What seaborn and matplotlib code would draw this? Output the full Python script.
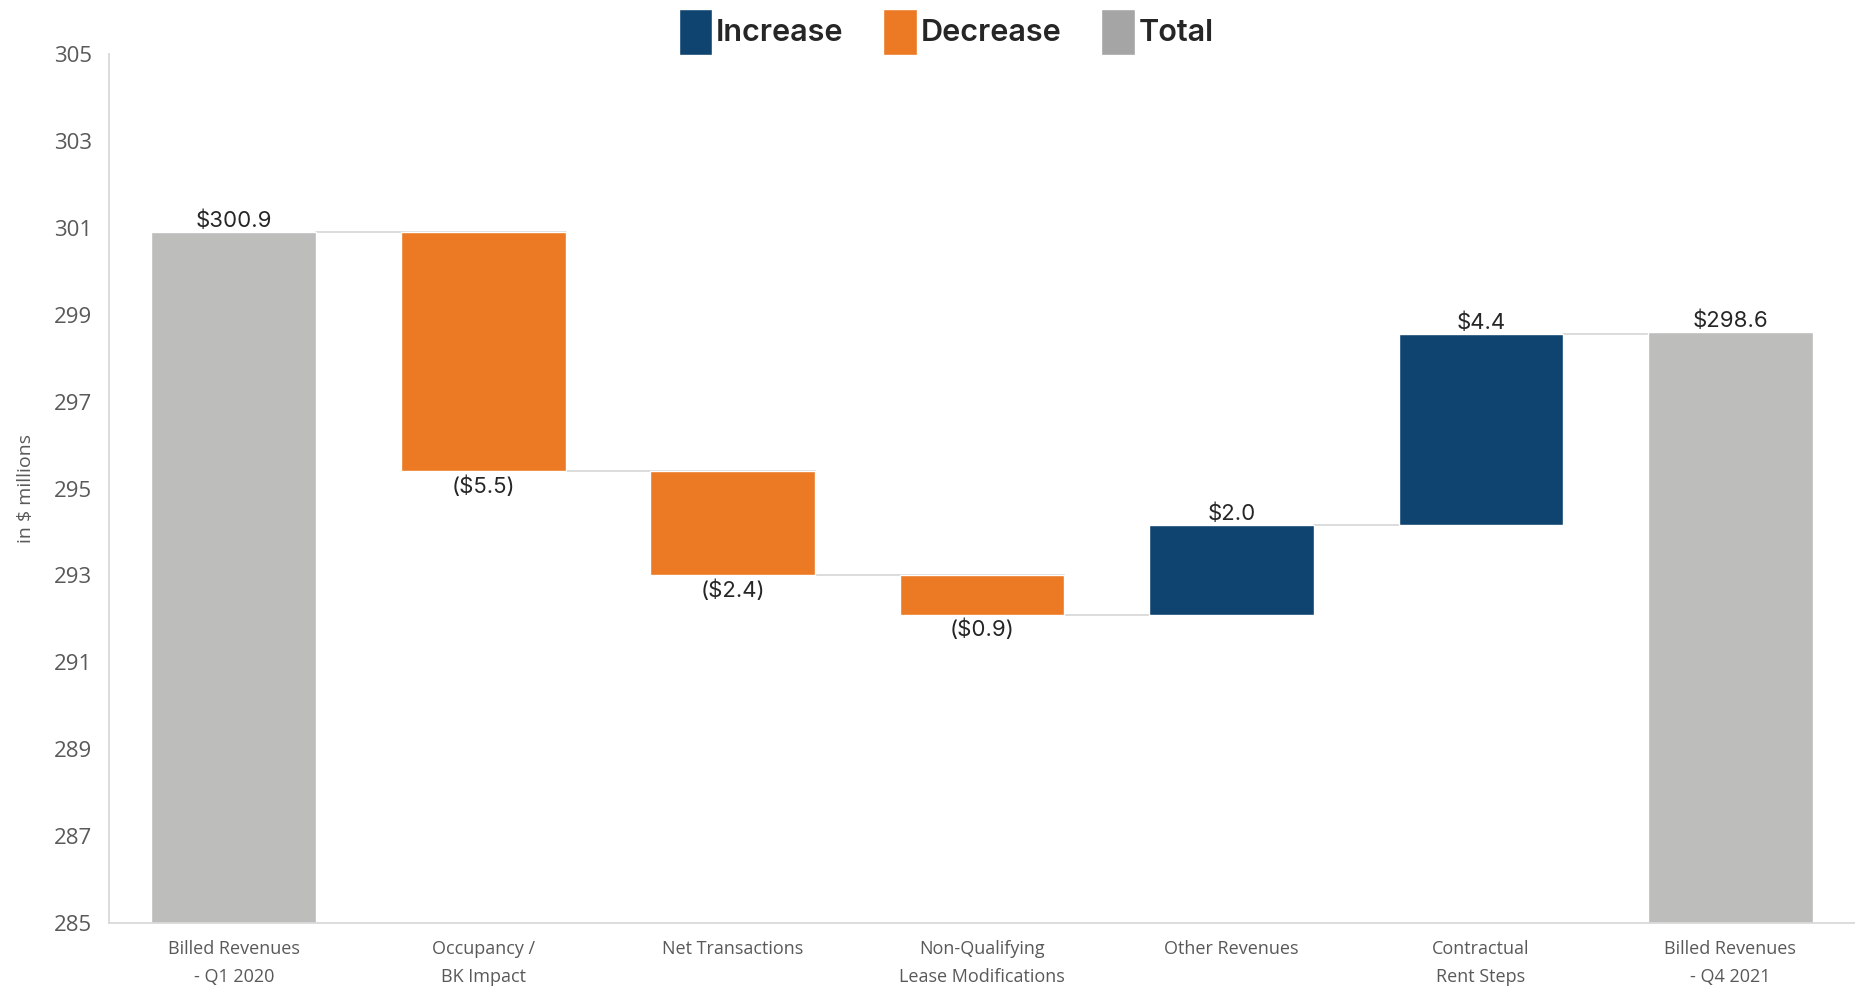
import numpy as np
import pandas as pd
import matplotlib
matplotlib.use("Agg")
import matplotlib.pyplot as plt
from matplotlib.patches import Patch
import seaborn as sns

# Waterfall data
categories = ["Billed Revenues\n- Q1 2020", "Occupancy /\nBK Impact", "Net Transactions",
              "Non-Qualifying\nLease Modifications", "Other Revenues", "Contractual\nRent Steps",
              "Billed Revenues\n- Q4 2021"]
changes = [300.9, -5.5, -2.4, -0.9, 2.05, 4.4, 298.6]
kinds = ["Total", "Decrease", "Decrease", "Decrease", "Increase", "Increase", "Total"]
labels = ["$300.9", "($5.5)", "($2.4)", "($0.9)", "$2.0", "$4.4", "$298.6"]
yticks = [285, 287, 289, 291, 293, 295, 297, 299, 301, 303, 305]

bar_colors = {"Increase": "#0F4470", "Decrease": "#EC7924", "Total": "#BDBDBC"}
legend_colors = {"Increase": "#0F4470", "Decrease": "#EC7924", "Total": "#A5A5A5"}

# running levels for the floating bars
bottoms, tops, levels = [], [], []
level = 0.0
for c, k in zip(changes, kinds):
    if k == "Total":
        bottoms.append(0.0)
        tops.append(c)
        level = c
    else:
        start = level
        level = level + c
        bottoms.append(min(start, level))
        tops.append(max(start, level))
    levels.append(level)

df = pd.DataFrame({"category": categories, "height": np.array(tops) - np.array(bottoms),
                   "bottom": bottoms, "top": tops, "kind": kinds})

sns.set_theme(style="white")
plt.rcParams["font.family"] = ["Inter", "DejaVu Sans"]

fig = plt.figure(figsize=(18.55, 9.91), dpi=100)
ax = fig.add_axes([0.0588, 0.0686, 0.9412, 0.8769])

sns.barplot(data=df, x="category", y="height", hue="category",
            palette=[bar_colors[k] for k in kinds], legend=False,
            width=0.66, saturation=1, ax=ax, zorder=3)

# lift each bar onto its base
for patch, b, h in zip(ax.patches, df["bottom"], df["height"]):
    patch.set_y(b)
    patch.set_height(h)

# connector lines between consecutive bars
for i in range(len(categories) - 1):
    ax.plot([i + 0.33, i + 1 + 0.33], [levels[i], levels[i]], color="#D9D9D9",
            lw=1.3, zorder=2)

# value labels
for i, (k, lab) in enumerate(zip(kinds, labels)):
    if k == "Decrease":
        ax.annotate(lab, (i, df["bottom"][i]), xytext=(0, -3), textcoords="offset points",
                    ha="center", va="top", fontsize=16, color="#262626")
    else:
        ax.annotate(lab, (i, df["top"][i]), xytext=(0, 1), textcoords="offset points",
                    ha="center", va="bottom", fontsize=16, color="#262626")

ax.set_xlim(-0.5, 6.5)
ax.set_ylim(285, 305)
ax.set_yticks(yticks)
ax.tick_params(axis="y", labelsize=16, labelcolor="#595959", length=0, pad=12)
ax.tick_params(axis="x", labelsize=13, labelcolor="#595959", length=0, pad=12)
for t in ax.get_xticklabels():
    t.set_family(["Open Sans", "DejaVu Sans"])
    t.set_linespacing(1.75)
for t in ax.get_yticklabels():
    t.set_family(["Open Sans", "DejaVu Sans"])
ax.set_xlabel("")
ax.set_ylabel("in $ millions", fontsize=14, color="#595959", labelpad=14,
              family=["Open Sans", "DejaVu Sans"])

for side in ["top", "right"]:
    ax.spines[side].set_visible(False)
for side in ["left", "bottom"]:
    ax.spines[side].set_color("#D9D9D9")
    ax.spines[side].set_linewidth(1.3)
    ax.spines[side].set_zorder(4)

handles = [Patch(facecolor=legend_colors[k], label=k) for k in ["Increase", "Decrease", "Total"]]
fig.legend(handles=handles, loc="center", bbox_to_anchor=(0.51, 0.968), ncol=3,
           frameon=False, handlelength=1.1, handleheight=1.95,
           handletextpad=0.12, columnspacing=1.3,
           prop={"family": ["Inter", "DejaVu Sans"], "size": 22, "weight": "semibold"})

fig.savefig("out.png", dpi=100)
